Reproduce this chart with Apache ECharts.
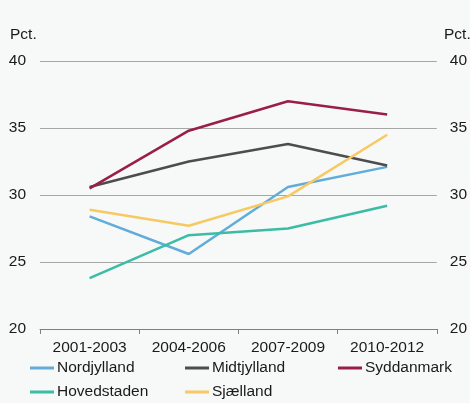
<!DOCTYPE html>
<html><head><meta charset="utf-8">
<script src="https://cdn.jsdelivr.net/npm/echarts@6/dist/echarts.min.js"></script>
<style>html,body{margin:0;padding:0;background:#f7f8f8}#c{width:470px;height:403px}</style>
</head><body><div id="c"></div>
<script>
const categories = ['2001-2003','2004-2006','2007-2009','2010-2012'];
const nordjylland = [28.4, 25.6, 30.6, 32.1];
const midtjylland = [30.6, 32.5, 33.8, 32.2];
const syddanmark = [30.5, 34.8, 37.0, 36.0];
const hovedstaden = [23.8, 27.0, 27.5, 29.2];
const sjaelland = [28.9, 27.7, 29.9, 34.5];
const yTicks = [20, 25, 30, 35, 40];

const names = ['Nordjylland','Midtjylland','Syddanmark','Hovedstaden','Sjælland'];
const colors = ['#62acd9','#4d4d4f','#9a1f48','#3bbca5','#f7c963'];
const dataSets = [nordjylland, midtjylland, syddanmark, hovedstaden, sjaelland];
const legendPos = [[30,360],[185,360],[338,360],[30,384],[185,384]];

const font = {fontFamily:'Liberation Sans, Arial, sans-serif', fontSize:15.5, color:'#1a1a1a'};
const chart = echarts.init(document.getElementById('c'));
chart.setOption({
  backgroundColor:'#f7f8f8',
  animation:false,
  grid:{left:40,right:30,top:61,bottom:74},
  xAxis:{type:'category',data:categories,boundaryGap:true,
    axisLine:{lineStyle:{color:'#7f7f7f',width:1}},
    axisTick:{show:true,length:5,lineStyle:{color:'#7f7f7f'}},
    axisLabel:Object.assign({margin:11},font)},
  yAxis:[
    {type:'value',min:yTicks[0],max:yTicks[yTicks.length-1],interval:5,
     axisLine:{show:false},axisTick:{show:false},
     axisLabel:Object.assign({margin:14},font),
     splitLine:{lineStyle:{color:'#a6a6a6',width:1}}},
    {type:'value',min:yTicks[0],max:yTicks[yTicks.length-1],interval:5,position:'right',
     axisLine:{show:false},axisTick:{show:false},
     axisLabel:Object.assign({margin:13},font),
     splitLine:{show:false}}
  ],
  legend: names.map((n,i)=>({data:[n],left:legendPos[i][0],top:legendPos[i][1],
    icon:'rect',itemWidth:24,itemHeight:3,itemGap:0,padding:0,
    textStyle:Object.assign({},font,{padding:[0,0,0,-2]})})),
  graphic:[
    {type:'text',left:10,top:27,style:{text:'Pct.',font:'15.5px Liberation Sans, Arial, sans-serif',fill:'#1a1a1a'}},
    {type:'text',left:444,top:27,style:{text:'Pct.',font:'15.5px Liberation Sans, Arial, sans-serif',fill:'#1a1a1a'}}
  ],
  series: names.map((n,i)=>({name:n,type:'line',data:dataSets[i],symbol:'none',
    lineStyle:{color:colors[i],width:2.5},itemStyle:{color:colors[i]}}))
});
</script></body></html>
